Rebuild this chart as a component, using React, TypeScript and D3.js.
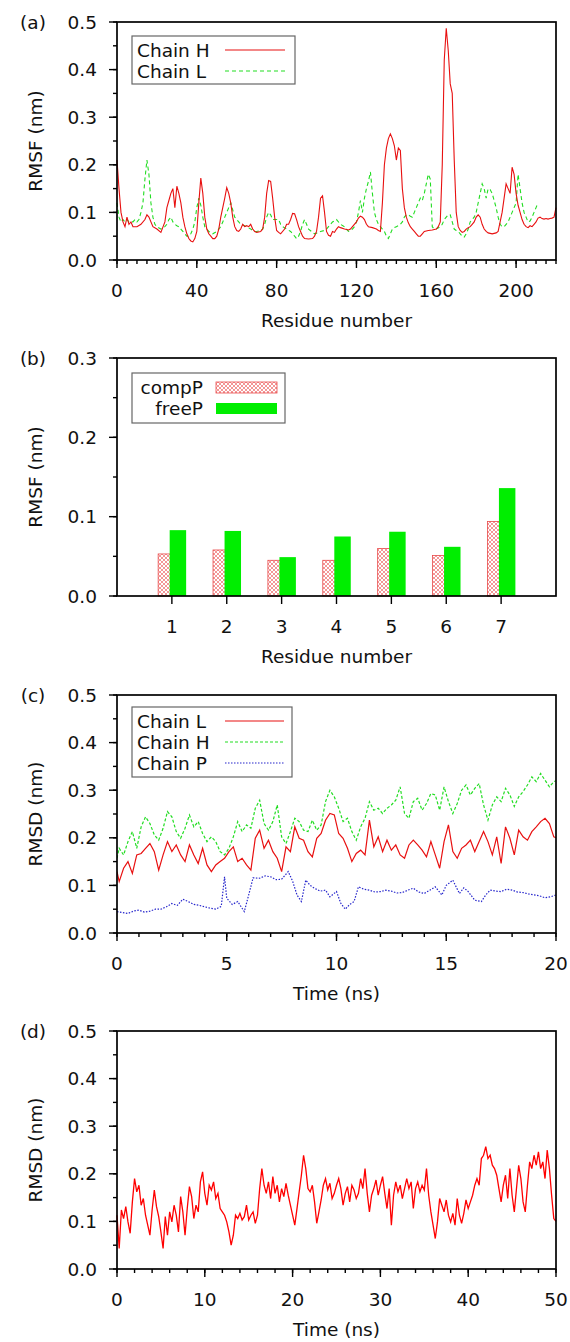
import React from 'react';
import * as d3 from 'd3';

const FONT = '"DejaVu Sans", sans-serif';
const FS = 18.5;
const LEFT = 117;
const RIGHT = 556;
const PH = 238;

// (a) RMSF per residue, [residue, nm]
const rmsfChainH: [number, number][] = [
  [0, 0.21], [1, 0.15], [2, 0.1], [3, 0.08], [4, 0.07], [5, 0.09], [6, 0.075], [7, 0.08], [8, 0.07], [10, 0.07],
  [12, 0.075], [14, 0.085], [15, 0.095], [16, 0.09], [18, 0.07], [20, 0.065], [22, 0.058], [24, 0.08], [25, 0.11],
  [26, 0.125], [27, 0.14], [28, 0.15], [29, 0.11], [30, 0.155], [31, 0.14], [32, 0.12], [33, 0.09], [34, 0.07],
  [35, 0.055], [36, 0.045], [37, 0.04], [38, 0.038], [39, 0.045], [40, 0.06], [41, 0.12], [42, 0.172], [43, 0.14],
  [44, 0.09], [45, 0.065], [46, 0.055], [47, 0.05], [48, 0.045], [49, 0.045], [50, 0.05], [51, 0.065], [52, 0.09],
  [53, 0.11], [54, 0.13], [55, 0.152], [56, 0.14], [57, 0.12], [58, 0.09], [59, 0.07], [60, 0.062], [61, 0.06],
  [62, 0.065], [63, 0.075], [64, 0.07], [65, 0.072], [66, 0.07], [67, 0.075], [68, 0.065], [69, 0.06], [70, 0.058],
  [72, 0.06], [73, 0.065], [74, 0.09], [75, 0.14], [76, 0.167], [77, 0.165], [78, 0.13], [79, 0.09], [80, 0.062],
  [81, 0.058], [82, 0.055], [84, 0.065], [85, 0.075], [86, 0.075], [87, 0.085], [88, 0.098], [89, 0.097], [90, 0.085],
  [91, 0.07], [92, 0.06], [93, 0.05], [94, 0.045], [96, 0.044], [98, 0.045], [99, 0.05], [100, 0.06], [101, 0.09],
  [102, 0.13], [103, 0.135], [104, 0.1], [105, 0.06], [106, 0.052], [107, 0.05], [108, 0.06], [109, 0.058],
  [110, 0.065], [111, 0.07], [112, 0.068], [114, 0.065], [116, 0.063], [117, 0.065], [118, 0.07], [120, 0.08],
  [121, 0.088], [122, 0.092], [123, 0.09], [124, 0.085], [125, 0.075], [126, 0.07], [128, 0.068], [130, 0.065],
  [131, 0.062], [132, 0.06], [133, 0.12], [134, 0.2], [135, 0.235], [136, 0.255], [137, 0.265], [138, 0.255],
  [139, 0.24], [140, 0.21], [141, 0.235], [142, 0.23], [143, 0.15], [144, 0.11], [145, 0.09], [146, 0.078],
  [147, 0.07], [148, 0.065], [149, 0.06], [150, 0.055], [151, 0.05], [152, 0.05], [153, 0.055], [154, 0.06],
  [156, 0.062], [158, 0.063], [160, 0.065], [161, 0.07], [162, 0.08], [163, 0.2], [164, 0.42], [165, 0.487],
  [166, 0.44], [167, 0.37], [168, 0.35], [169, 0.21], [170, 0.1], [171, 0.07], [172, 0.062], [173, 0.058],
  [174, 0.06], [175, 0.065], [176, 0.068], [177, 0.07], [178, 0.075], [179, 0.08], [180, 0.09], [181, 0.095],
  [182, 0.09], [183, 0.075], [184, 0.065], [185, 0.06], [186, 0.057], [188, 0.055], [190, 0.057], [191, 0.06],
  [192, 0.08], [193, 0.1], [194, 0.13], [195, 0.16], [196, 0.15], [197, 0.14], [198, 0.195], [199, 0.18],
  [200, 0.14], [201, 0.115], [202, 0.1], [203, 0.085], [204, 0.075], [205, 0.07], [206, 0.068], [207, 0.072],
  [208, 0.07], [209, 0.075], [210, 0.08], [211, 0.088], [212, 0.09], [213, 0.087], [214, 0.086], [215, 0.087],
  [216, 0.086], [217, 0.087], [218, 0.088], [219, 0.09], [220, 0.11],
];

const rmsfChainL: [number, number][] = [
  [0, 0.12], [1, 0.09], [2, 0.08], [3, 0.085], [4, 0.08], [5, 0.085], [6, 0.08], [7, 0.08], [8, 0.08], [9, 0.085],
  [10, 0.08], [11, 0.085], [12, 0.1], [13, 0.12], [14, 0.17], [15, 0.21], [16, 0.18], [17, 0.12], [18, 0.09],
  [19, 0.075], [20, 0.07], [22, 0.065], [24, 0.07], [25, 0.075], [26, 0.085], [27, 0.09], [28, 0.08], [29, 0.075],
  [30, 0.072], [31, 0.07], [32, 0.065], [33, 0.06], [34, 0.055], [35, 0.05], [36, 0.05], [37, 0.055], [38, 0.065],
  [39, 0.08], [40, 0.11], [41, 0.13], [42, 0.115], [43, 0.09], [44, 0.07], [45, 0.065], [46, 0.06], [47, 0.058],
  [48, 0.055], [50, 0.06], [52, 0.07], [53, 0.08], [54, 0.09], [55, 0.1], [56, 0.11], [57, 0.12], [58, 0.105],
  [59, 0.09], [60, 0.085], [61, 0.08], [62, 0.075], [64, 0.072], [65, 0.07], [67, 0.065], [69, 0.06], [70, 0.06],
  [72, 0.062], [73, 0.065], [74, 0.075], [75, 0.09], [76, 0.1], [77, 0.095], [78, 0.085], [80, 0.085], [81, 0.085],
  [82, 0.075], [83, 0.07], [85, 0.065], [87, 0.06], [88, 0.055], [89, 0.05], [90, 0.045], [91, 0.05], [92, 0.06],
  [93, 0.075], [94, 0.085], [95, 0.075], [96, 0.065], [98, 0.058], [99, 0.055], [101, 0.058], [102, 0.06],
  [104, 0.062], [105, 0.065], [107, 0.075], [108, 0.08], [110, 0.085], [112, 0.075], [114, 0.07], [115, 0.065],
  [116, 0.06], [117, 0.062], [118, 0.065], [119, 0.07], [120, 0.08], [121, 0.1], [122, 0.125], [123, 0.1],
  [124, 0.13], [125, 0.15], [126, 0.165], [127, 0.185], [128, 0.14], [129, 0.1], [130, 0.085], [131, 0.075],
  [132, 0.07], [133, 0.065], [134, 0.06], [135, 0.05], [136, 0.045], [137, 0.055], [138, 0.065], [139, 0.068],
  [140, 0.07], [141, 0.072], [142, 0.075], [143, 0.08], [144, 0.09], [145, 0.095], [146, 0.095], [147, 0.092],
  [148, 0.09], [149, 0.1], [150, 0.11], [151, 0.12], [152, 0.13], [153, 0.125], [154, 0.14], [155, 0.16],
  [156, 0.18], [157, 0.17], [158, 0.07], [159, 0.065], [160, 0.065], [162, 0.07], [163, 0.075], [164, 0.085],
  [165, 0.09], [166, 0.095], [167, 0.095], [168, 0.08], [169, 0.065], [170, 0.062], [171, 0.06], [172, 0.055],
  [173, 0.05], [174, 0.048], [175, 0.055], [176, 0.065], [177, 0.08], [178, 0.085], [179, 0.09], [180, 0.1],
  [181, 0.12], [182, 0.14], [183, 0.16], [184, 0.15], [185, 0.13], [186, 0.15], [187, 0.148], [188, 0.14],
  [189, 0.125], [190, 0.11], [191, 0.09], [192, 0.075], [193, 0.07], [194, 0.07], [195, 0.075], [196, 0.08],
  [197, 0.09], [198, 0.1], [199, 0.11], [200, 0.12], [201, 0.18], [202, 0.15], [203, 0.12], [204, 0.1],
  [205, 0.09], [206, 0.08], [207, 0.082], [208, 0.09], [209, 0.1], [210, 0.11], [211, 0.12],
];

// (b) peptide residues
const peptideResidues = [1, 2, 3, 4, 5, 6, 7];
const rmsfCompP = [0.053, 0.058, 0.045, 0.045, 0.06, 0.051, 0.094];
const rmsfFreeP = [0.083, 0.082, 0.049, 0.075, 0.081, 0.062, 0.136];

// (c) RMSD of the chains, [ns, nm]
const rmsdChainL: [number, number][] = [
  [0, 0.129], [0.1, 0.108], [0.3, 0.136], [0.5, 0.15], [0.7, 0.125], [0.9, 0.164], [1.1, 0.167], [1.3, 0.178],
  [1.5, 0.188], [1.7, 0.171], [1.9, 0.132], [2.1, 0.164], [2.3, 0.192], [2.5, 0.171], [2.7, 0.185], [2.9, 0.164],
  [3.1, 0.15], [3.3, 0.185], [3.5, 0.164], [3.7, 0.146], [3.9, 0.178], [4.1, 0.143], [4.3, 0.129], [4.5, 0.143],
  [4.7, 0.15], [4.9, 0.157], [5.1, 0.171], [5.3, 0.181], [5.5, 0.15], [5.7, 0.157], [5.9, 0.143], [6.1, 0.132],
  [6.3, 0.199], [6.5, 0.216], [6.7, 0.178], [6.9, 0.195], [7.1, 0.171], [7.3, 0.157], [7.5, 0.129], [7.7, 0.181],
  [7.9, 0.171], [8.1, 0.223], [8.3, 0.199], [8.5, 0.195], [8.7, 0.171], [8.9, 0.16], [9.1, 0.199], [9.3, 0.209],
  [9.5, 0.237], [9.7, 0.251], [9.9, 0.248], [10.1, 0.209], [10.3, 0.199], [10.5, 0.178], [10.7, 0.15],
  [10.9, 0.167], [11.1, 0.174], [11.3, 0.164], [11.5, 0.237], [11.7, 0.181], [11.9, 0.202], [12.1, 0.171],
  [12.3, 0.195], [12.5, 0.174], [12.7, 0.185], [12.9, 0.164], [13.1, 0.157], [13.3, 0.185], [13.5, 0.195],
  [13.7, 0.185], [13.9, 0.174], [14.1, 0.16], [14.3, 0.192], [14.5, 0.164], [14.7, 0.136], [14.9, 0.192],
  [15.1, 0.227], [15.3, 0.171], [15.5, 0.157], [15.7, 0.178], [15.9, 0.185], [16.1, 0.195], [16.3, 0.171],
  [16.5, 0.192], [16.7, 0.213], [16.9, 0.192], [17.1, 0.164], [17.3, 0.202], [17.5, 0.146], [17.7, 0.223],
  [17.9, 0.199], [18.1, 0.164], [18.3, 0.216], [18.5, 0.202], [18.7, 0.195], [18.9, 0.213], [19.1, 0.223],
  [19.3, 0.234], [19.5, 0.241], [19.7, 0.23], [19.9, 0.202], [20, 0.2],
];

const rmsdChainH: [number, number][] = [
  [0, 0.157], [0.1, 0.178], [0.3, 0.164], [0.5, 0.192], [0.7, 0.213], [0.9, 0.178], [1.1, 0.223], [1.3, 0.244],
  [1.5, 0.23], [1.7, 0.206], [1.9, 0.195], [2.1, 0.22], [2.3, 0.255], [2.5, 0.244], [2.7, 0.213], [2.9, 0.199],
  [3.1, 0.22], [3.3, 0.248], [3.5, 0.223], [3.7, 0.234], [3.9, 0.209], [4.1, 0.192], [4.3, 0.202], [4.5, 0.192],
  [4.7, 0.171], [4.9, 0.164], [5.1, 0.178], [5.3, 0.202], [5.5, 0.234], [5.7, 0.213], [5.9, 0.227], [6.1, 0.22],
  [6.3, 0.262], [6.5, 0.279], [6.7, 0.23], [6.9, 0.216], [7.1, 0.234], [7.3, 0.269], [7.5, 0.202], [7.7, 0.188],
  [7.9, 0.213], [8.1, 0.241], [8.3, 0.234], [8.5, 0.216], [8.7, 0.213], [8.9, 0.237], [9.1, 0.216], [9.3, 0.227],
  [9.5, 0.276], [9.7, 0.3], [9.9, 0.286], [10.1, 0.262], [10.3, 0.234], [10.5, 0.241], [10.7, 0.213],
  [10.9, 0.195], [11.1, 0.223], [11.3, 0.241], [11.5, 0.276], [11.7, 0.258], [11.9, 0.262], [12.1, 0.251],
  [12.3, 0.262], [12.5, 0.269], [12.7, 0.279], [12.9, 0.307], [13.1, 0.251], [13.3, 0.241], [13.5, 0.276],
  [13.7, 0.283], [13.9, 0.258], [14.1, 0.272], [14.3, 0.293], [14.5, 0.29], [14.7, 0.258], [14.9, 0.307],
  [15.1, 0.276], [15.3, 0.251], [15.5, 0.272], [15.7, 0.3], [15.9, 0.311], [16.1, 0.29], [16.3, 0.304],
  [16.5, 0.314], [16.7, 0.269], [16.9, 0.237], [17.1, 0.269], [17.3, 0.286], [17.5, 0.276], [17.7, 0.304],
  [17.9, 0.29], [18.1, 0.266], [18.3, 0.286], [18.5, 0.297], [18.7, 0.311], [18.9, 0.328], [19.1, 0.318],
  [19.3, 0.335], [19.5, 0.321], [19.7, 0.307], [19.9, 0.318], [20, 0.32],
];

const rmsdChainP: [number, number][] = [
  [0, 0.045], [0.25, 0.043], [0.5, 0.041], [0.75, 0.046], [1, 0.048], [1.25, 0.044], [1.5, 0.046], [1.75, 0.05],
  [2, 0.05], [2.25, 0.055], [2.5, 0.062], [2.75, 0.058], [3, 0.071], [3.25, 0.066], [3.5, 0.06], [3.75, 0.058],
  [4, 0.055], [4.25, 0.052], [4.5, 0.05], [4.75, 0.056], [4.9, 0.118], [5, 0.073], [5.25, 0.06], [5.5, 0.066],
  [5.8, 0.045], [6, 0.08], [6.2, 0.116], [6.5, 0.115], [6.75, 0.12], [7, 0.118], [7.25, 0.112], [7.5, 0.113],
  [7.8, 0.129], [8, 0.109], [8.2, 0.08], [8.4, 0.066], [8.6, 0.111], [8.8, 0.1], [9, 0.094], [9.25, 0.088],
  [9.5, 0.09], [9.7, 0.076], [10, 0.087], [10.2, 0.062], [10.4, 0.05], [10.6, 0.06], [10.8, 0.066], [11, 0.097],
  [11.25, 0.092], [11.5, 0.09], [11.75, 0.086], [12, 0.087], [12.25, 0.09], [12.5, 0.088], [12.75, 0.084],
  [13, 0.085], [13.25, 0.09], [13.5, 0.094], [13.75, 0.086], [14, 0.083], [14.25, 0.09], [14.5, 0.097],
  [14.8, 0.08], [15, 0.1], [15.3, 0.111], [15.6, 0.083], [15.8, 0.095], [16, 0.087], [16.3, 0.069],
  [16.6, 0.066], [16.8, 0.08], [17, 0.09], [17.25, 0.088], [17.5, 0.087], [17.75, 0.092], [18, 0.09],
  [18.25, 0.086], [18.5, 0.085], [18.75, 0.082], [19, 0.08], [19.25, 0.078], [19.5, 0.074], [19.75, 0.076],
  [20, 0.08],
];

// (d) RMSD of the complex, [ns, nm]
const rmsdComplex: [number, number][] = [
  [0, 0.113], [0.25, 0.043], [0.5, 0.124], [0.75, 0.106], [1, 0.131], [1.25, 0.099], [1.5, 0.075], [1.75, 0.141],
  [2, 0.19], [2.25, 0.162], [2.5, 0.176], [2.75, 0.134], [3, 0.148], [3.25, 0.113], [3.5, 0.092], [3.75, 0.071],
  [4, 0.124], [4.25, 0.166], [4.5, 0.131], [4.75, 0.11], [5, 0.078], [5.25, 0.043], [5.5, 0.11], [5.75, 0.071],
  [6, 0.12], [6.25, 0.099], [6.5, 0.134], [6.75, 0.113], [7, 0.078], [7.25, 0.152], [7.5, 0.12], [7.75, 0.071],
  [8, 0.127], [8.25, 0.173], [8.5, 0.152], [8.75, 0.106], [9, 0.134], [9.25, 0.12], [9.5, 0.183], [9.75, 0.204],
  [10, 0.159], [10.25, 0.134], [10.5, 0.176], [10.75, 0.166], [11, 0.183], [11.25, 0.148], [11.5, 0.159],
  [11.75, 0.127], [12, 0.12], [12.25, 0.113], [12.5, 0.099], [12.75, 0.078], [13, 0.05], [13.25, 0.071],
  [13.5, 0.113], [13.75, 0.106], [14, 0.117], [14.25, 0.103], [14.5, 0.11], [14.75, 0.134], [15, 0.103],
  [15.25, 0.113], [15.5, 0.12], [15.75, 0.096], [16, 0.113], [16.25, 0.169], [16.5, 0.211], [16.75, 0.176],
  [17, 0.159], [17.25, 0.183], [17.5, 0.148], [17.75, 0.194], [18, 0.159], [18.25, 0.176], [18.5, 0.141],
  [18.75, 0.169], [19, 0.152], [19.25, 0.18], [19.5, 0.155], [19.75, 0.134], [20, 0.113], [20.25, 0.092],
  [20.5, 0.127], [20.75, 0.162], [21, 0.197], [21.25, 0.239], [21.5, 0.211], [21.75, 0.169], [22, 0.162],
  [22.25, 0.176], [22.5, 0.141], [22.75, 0.096], [23, 0.12], [23.25, 0.145], [23.5, 0.176], [23.75, 0.19],
  [24, 0.166], [24.25, 0.18], [24.5, 0.148], [24.75, 0.159], [25, 0.176], [25.25, 0.19], [25.5, 0.169],
  [25.75, 0.134], [26, 0.159], [26.25, 0.173], [26.5, 0.141], [26.75, 0.176], [27, 0.166], [27.25, 0.148],
  [27.5, 0.159], [27.75, 0.19], [28, 0.169], [28.25, 0.211], [28.5, 0.159], [28.75, 0.12], [29, 0.155],
  [29.25, 0.169], [29.5, 0.187], [29.75, 0.155], [30, 0.176], [30.25, 0.194], [30.5, 0.159], [30.75, 0.127],
  [31, 0.169], [31.25, 0.092], [31.5, 0.155], [31.75, 0.183], [32, 0.162], [32.25, 0.176], [32.5, 0.148],
  [32.75, 0.169], [33, 0.19], [33.25, 0.169], [33.5, 0.183], [33.75, 0.127], [34, 0.169], [34.25, 0.183],
  [34.5, 0.162], [34.75, 0.176], [35, 0.166], [35.25, 0.211], [35.5, 0.155], [35.75, 0.12], [36, 0.092],
  [36.25, 0.064], [36.5, 0.099], [36.75, 0.148], [37, 0.134], [37.25, 0.12], [37.5, 0.145], [37.75, 0.113],
  [38, 0.099], [38.25, 0.117], [38.5, 0.092], [38.75, 0.148], [39, 0.113], [39.25, 0.096], [39.5, 0.117],
  [39.75, 0.145], [40, 0.127], [40.25, 0.141], [40.5, 0.155], [40.75, 0.176], [41, 0.19], [41.25, 0.176],
  [41.5, 0.232], [41.75, 0.239], [42, 0.257], [42.25, 0.232], [42.5, 0.239], [42.75, 0.218], [43, 0.211],
  [43.25, 0.197], [43.5, 0.169], [43.75, 0.141], [44, 0.176], [44.25, 0.197], [44.5, 0.148], [44.75, 0.211],
  [45, 0.155], [45.25, 0.12], [45.5, 0.169], [45.75, 0.218], [46, 0.19], [46.25, 0.141], [46.5, 0.12],
  [46.75, 0.176], [47, 0.225], [47.25, 0.211], [47.5, 0.239], [47.75, 0.218], [48, 0.246], [48.25, 0.211],
  [48.5, 0.225], [48.75, 0.19], [49, 0.25], [49.25, 0.211], [49.5, 0.155], [49.75, 0.106], [50, 0.1],
];

const ticksA = { x: d3.range(0, 201, 40), xMinor: d3.range(0, 221, 5) };
const ticksC = { x: d3.range(0, 21, 5), xMinor: d3.range(0, 21, 1) };
const ticksD = { x: d3.range(0, 51, 10), xMinor: d3.range(0, 51, 2) };

const fmt1 = d3.format('.1f');

type Sc = d3.ScaleLinear<number, number>;

function Axes(props: {
  top: number; x: Sc; y: Sc; xMajor: number[]; xMinor: number[]; yMajor: number[]; yMinor: number[];
  xTitle: string; yTitle: string; tag: string;
}) {
  const { top, x, y, xMajor, xMinor, yMajor, yMinor, xTitle, yTitle, tag } = props;
  const bottom = top + PH;
  return (
    <g fontFamily={FONT} fontSize={FS} fill="#111">
      {yMinor.map((v) => (
        <line key={'ym' + v} x1={LEFT - 4} x2={LEFT} y1={y(v)} y2={y(v)} stroke="#000" strokeWidth={1.4} />
      ))}
      {yMajor.map((v) => (
        <g key={'yM' + v}>
          <line x1={LEFT - 8} x2={LEFT} y1={y(v)} y2={y(v)} stroke="#000" strokeWidth={1.4} />
          <text x={97} y={y(v) + 6.5} textAnchor="end">{fmt1(v)}</text>
        </g>
      ))}
      {xMinor.map((v) => (
        <line key={'xm' + v} x1={x(v)} x2={x(v)} y1={bottom} y2={bottom + 4} stroke="#000" strokeWidth={1.4} />
      ))}
      {xMajor.map((v) => (
        <g key={'xM' + v}>
          <line x1={x(v)} x2={x(v)} y1={bottom} y2={bottom + 8} stroke="#000" strokeWidth={1.4} />
          <text x={x(v)} y={bottom + 36.5} textAnchor="middle">{v}</text>
        </g>
      ))}
      <rect x={LEFT} y={top} width={RIGHT - LEFT} height={PH} fill="none" stroke="#000" strokeWidth={1.7} />
      <text x={(LEFT + RIGHT) / 2} y={bottom + 67} textAnchor="middle">{xTitle}</text>
      <text transform={`translate(42,${top + PH / 2}) rotate(-90)`} textAnchor="middle">{yTitle}</text>
      <text x={33} y={top + 6.5} textAnchor="middle">{tag}</text>
    </g>
  );
}

function LegendBox(props: { x: number; y: number; w: number; h: number }) {
  return <rect x={props.x} y={props.y} width={props.w} height={props.h} fill="#fff" stroke="#666" strokeWidth={1.2} />;
}

export default function App() {
  const tops = [22, 358, 695, 1031];
  const yOf = (top: number, max: number) => d3.scaleLinear().domain([0, max]).range([top + PH, top]);

  // (a)
  const xa = d3.scaleLinear().domain([0, 220]).range([LEFT, RIGHT]);
  const ya = yOf(tops[0], 0.5);
  const lineA = d3.line<[number, number]>().x((d) => xa(d[0])).y((d) => ya(d[1]));

  // (b)
  const xb = d3.scaleLinear().domain([0, 8]).range([LEFT, RIGHT]);
  const yb = yOf(tops[1], 0.3);

  // (c)
  const xc = d3.scaleLinear().domain([0, 20]).range([LEFT, RIGHT]);
  const yc = yOf(tops[2], 0.5);
  const lineC = d3.line<[number, number]>().x((d) => xc(d[0])).y((d) => yc(d[1]));

  // (d)
  const xd = d3.scaleLinear().domain([0, 50]).range([LEFT, RIGHT]);
  const yd = yOf(tops[3], 0.5);
  const lineD = d3.line<[number, number]>().x((d) => xd(d[0])).y((d) => yd(d[1]));

  const yMaj5 = d3.range(0, 0.51, 0.1);
  const yMin5 = d3.range(0, 0.51, 0.05);
  const yMaj3 = d3.range(0, 0.31, 0.1);
  const yMin3 = d3.range(0, 0.31, 0.05);

  const RED = '#e81010';
  const GREEN = '#22dd22';
  const BLUE = '#2626cc';

  return (
    <svg width={570} height={1342} style={{ position: 'absolute', left: 0, top: 0, background: '#fff' }}>
      <defs>
        <pattern id="hatch" width={4} height={4} patternUnits="userSpaceOnUse">
          <rect width={4} height={4} fill="#fff" />
          <path d="M0,0 L4,4 M4,0 L0,4" stroke="#ee6a6a" strokeWidth={0.7} />
        </pattern>
        <clipPath id="clipC"><rect x={LEFT} y={tops[2]} width={RIGHT - LEFT} height={PH} /></clipPath>
      </defs>
      <rect width={570} height={1342} fill="#fff" />

      {/* (a) */}
      <path d={lineA(rmsfChainL) || ''} fill="none" stroke={GREEN} strokeWidth={1.1} strokeDasharray="4,3" />
      <path d={lineA(rmsfChainH) || ''} fill="none" stroke={RED} strokeWidth={1.1} />
      <Axes top={tops[0]} x={xa} y={ya} xMajor={ticksA.x} xMinor={ticksA.xMinor} yMajor={yMaj5} yMinor={yMin5}
        xTitle="Residue number" yTitle="RMSF (nm)" tag="(a)" />
      <g fontFamily={FONT} fontSize={FS} fill="#111">
        <LegendBox x={132} y={36} w={163} h={48} />
        <text x={137} y={56.5}>Chain H</text>
        <text x={137} y={77.5}>Chain L</text>
        <line x1={225} x2={285} y1={50} y2={50} stroke={RED} strokeWidth={1.1} />
        <line x1={225} x2={285} y1={71} y2={71} stroke={GREEN} strokeWidth={1.1} strokeDasharray="4,3" />
      </g>

      {/* (b) */}
      {peptideResidues.map((r, i) => (
        <g key={'bar' + r}>
          <rect x={xb(r - 0.25)} y={yb(rmsfCompP[i])} width={xb(r - 0.01) - xb(r - 0.25)}
            height={yb(0) - yb(rmsfCompP[i])} fill="url(#hatch)" stroke="#e84a4a" strokeWidth={0.8} />
          <rect x={xb(r - 0.04)} y={yb(rmsfFreeP[i])} width={xb(r + 0.26) - xb(r - 0.04)}
            height={yb(0) - yb(rmsfFreeP[i])} fill="#00ee00" />
        </g>
      ))}
      <Axes top={tops[1]} x={xb} y={yb} xMajor={peptideResidues} xMinor={[]} yMajor={yMaj3} yMinor={yMin3}
        xTitle="Residue number" yTitle="RMSF (nm)" tag="(b)" />
      <g fontFamily={FONT} fontSize={FS} fill="#111">
        <LegendBox x={132} y={373} w={153} h={50} />
        <text x={203} y={393.5} textAnchor="end">compP</text>
        <text x={203} y={414.5} textAnchor="end">freeP</text>
        <rect x={216} y={382} width={61} height={11} fill="url(#hatch)" stroke="#e84a4a" strokeWidth={0.8} />
        <rect x={216} y={403} width={61} height={11} fill="#00ee00" />
      </g>

      {/* (c) */}
      <g clipPath="url(#clipC)">
        <path d={lineC(rmsdChainH) || ''} fill="none" stroke={GREEN} strokeWidth={1.2} strokeDasharray="3,2" />
        <path d={lineC(rmsdChainL) || ''} fill="none" stroke={RED} strokeWidth={1.2} />
        <path d={lineC(rmsdChainP) || ''} fill="none" stroke={BLUE} strokeWidth={1.2} strokeDasharray="1.5,1.5" />
      </g>
      <Axes top={tops[2]} x={xc} y={yc} xMajor={ticksC.x} xMinor={ticksC.xMinor} yMajor={yMaj5} yMinor={yMin5}
        xTitle="Time (ns)" yTitle="RMSD (nm)" tag="(c)" />
      <g fontFamily={FONT} fontSize={FS} fill="#111">
        <LegendBox x={132} y={707} w={160} h={70} />
        <text x={137} y={727.5}>Chain L</text>
        <text x={137} y={748.5}>Chain H</text>
        <text x={137} y={769.5}>Chain P</text>
        <line x1={225} x2={284} y1={721} y2={721} stroke={RED} strokeWidth={1.1} />
        <line x1={225} x2={284} y1={742} y2={742} stroke={GREEN} strokeWidth={1.1} strokeDasharray="3,2" />
        <line x1={225} x2={284} y1={763} y2={763} stroke={BLUE} strokeWidth={1.1} strokeDasharray="1.5,1.5" />
      </g>

      {/* (d) */}
      <path d={lineD(rmsdComplex) || ''} fill="none" stroke="#ff0000" strokeWidth={1.3} />
      <Axes top={tops[3]} x={xd} y={yd} xMajor={ticksD.x} xMinor={ticksD.xMinor} yMajor={yMaj5} yMinor={yMin5}
        xTitle="Time (ns)" yTitle="RMSD (nm)" tag="(d)" />
    </svg>
  );
}
